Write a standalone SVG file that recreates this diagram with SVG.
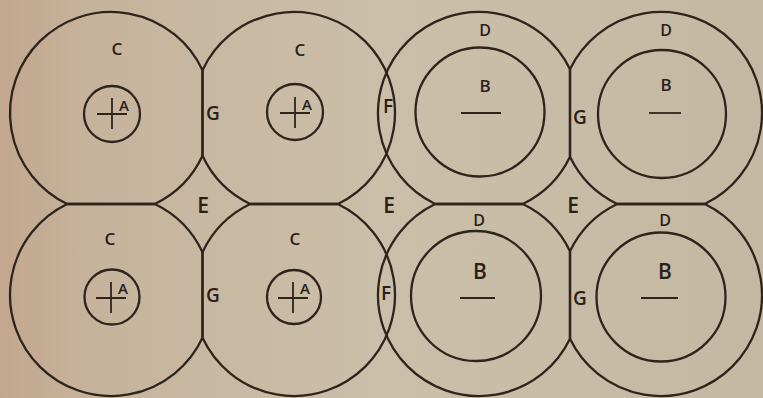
<svg xmlns="http://www.w3.org/2000/svg" width="763" height="398" viewBox="0 0 763 398">
<defs>
<linearGradient id="bg" x1="0" y1="0" x2="1" y2="0">
<stop offset="0" stop-color="#c2a78e"/>
<stop offset="0.12" stop-color="#c7b39c"/>
<stop offset="0.5" stop-color="#cbbfa9"/>
<stop offset="1" stop-color="#c3b9a3"/>
</linearGradient>
<style>
.ln{fill:none;stroke:#2f241b;stroke-width:2.3;stroke-linejoin:round}
.thin{fill:none;stroke:#2f241b;stroke-width:1.8}
.t{font-family:"Open Sans","DejaVu Sans","Liberation Sans",sans-serif;font-weight:600;fill:#2a2018;text-anchor:middle}
.s{font-size:16px}
.c{font-size:17px}
.m{font-size:19px}
.l{font-size:21px}
.a{font-size:15px}
</style>
</defs>
<rect x="0" y="0" width="763" height="398" fill="url(#bg)"/>
<g id="connectors"></g>
<g id="cell-top-1">
<path class="ln" d="M202.5 70.2 L202.5 155.8 A101 101 0 0 1 154.8 204 L67.2 204 A101 101 0 1 1 202.5 70.2 Z"/>
<circle class="ln" cx="112" cy="114" r="28"/>
<path class="thin" d="M97 114 H127 M112 98 V129"/>
<text class="t a" x="124" y="111">A</text>
<text class="t c" x="117" y="55">C</text>
</g>
<g id="cell-top-2">
<path class="ln" d="M202.5 155.8 L202.5 70.2 A101 101 0 1 1 337.8 204 L250.2 204 A101 101 0 0 1 202.5 155.8 Z"/>
<circle class="ln" cx="295" cy="112" r="28"/>
<path class="thin" d="M280 113 H310 M295 97 V128"/>
<text class="t a" x="307" y="110">A</text>
<text class="t c" x="300" y="56">C</text>
</g>
<g id="cell-top-3">
<path class="ln" d="M570 156.8 A101 101 0 0 1 522.8 204 L435.2 204 A101 101 0 1 1 570 69.2 Z"/>
<circle class="ln" cx="480" cy="112" r="64.5"/>
<path class="thin" d="M461 113 H501"/>
<text class="t s" x="485" y="36">D</text>
<text class="t c" x="485" y="92">B</text>
</g>
<g id="cell-top-4">
<path class="ln" d="M570 156.8 L570 69.2 A101 101 0 1 1 704.8 204 L617.2 204 A101 101 0 0 1 570 156.8 Z"/>
<circle class="ln" cx="662" cy="114" r="64"/>
<path class="thin" d="M649 113 H681"/>
<text class="t s" x="666" y="36">D</text>
<text class="t c" x="666" y="91">B</text>
</g>
<g id="cell-bottom-1">
<path class="ln" d="M202.5 337.8 L202.5 252.2 A101 101 0 0 0 154.8 204 L67.2 204 A101 101 0 1 0 202.5 337.8 Z"/>
<circle class="ln" cx="112" cy="297" r="27.5"/>
<path class="thin" d="M96 298 H126 M111 282 V313"/>
<text class="t a" x="123" y="294">A</text>
<text class="t c" x="110" y="245">C</text>
</g>
<g id="cell-bottom-2">
<path class="ln" d="M202.5 252.2 L202.5 337.8 A101 101 0 1 0 337.8 204 L250.2 204 A101 101 0 0 0 202.5 252.2 Z"/>
<circle class="ln" cx="294" cy="297" r="27"/>
<path class="thin" d="M278 298 H308 M293 282 V313"/>
<text class="t a" x="305" y="294">A</text>
<text class="t c" x="295" y="245">C</text>
</g>
<g id="cell-bottom-3">
<path class="ln" d="M570 251.2 A101 101 0 0 0 522.8 204 L435.2 204 A101 101 0 1 0 570 338.8 Z"/>
<circle class="ln" cx="476" cy="296" r="65"/>
<path class="thin" d="M460 298 H495"/>
<text class="t s" x="479" y="226">D</text>
<text class="t l" x="480" y="279">B</text>
</g>
<g id="cell-bottom-4">
<path class="ln" d="M570 251.2 L570 338.8 A101 101 0 1 0 704.8 204 L617.2 204 A101 101 0 0 0 570 251.2 Z"/>
<circle class="ln" cx="661" cy="297" r="64.5"/>
<path class="thin" d="M641 298 H678"/>
<text class="t s" x="665" y="226">D</text>
<text class="t l" x="665" y="279">B</text>
</g>
<g id="labels">
<text class="t m" x="213" y="120">G</text>
<text class="t m" x="580" y="124">G</text>
<text class="t m" x="213" y="302">G</text>
<text class="t m" x="580" y="305">G</text>
<text class="t m" x="388" y="113">F</text>
<text class="t m" x="386" y="300">F</text>
<text class="t l" x="203" y="213">E</text>
<text class="t l" x="389" y="213">E</text>
<text class="t l" x="573" y="213">E</text>
</g>
</svg>
